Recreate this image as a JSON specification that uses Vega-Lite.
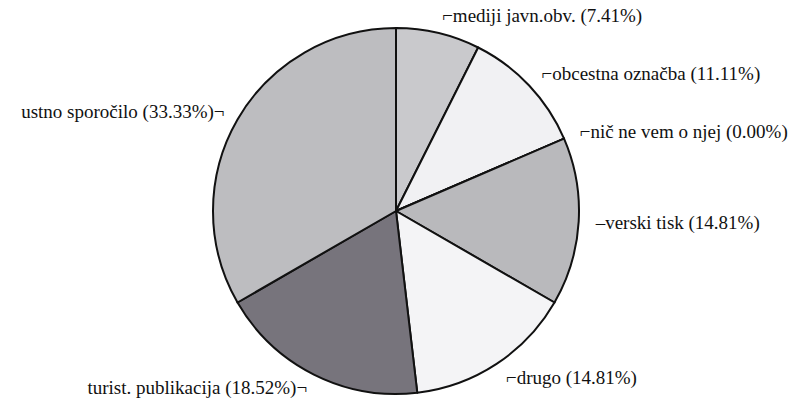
{
  "$schema": "https://vega.github.io/schema/vega-lite/v6.json",
  "width": 799,
  "height": 404,
  "autosize": {"type": "fit", "contains": "padding"},
  "padding": {"left": 0, "right": 7, "top": 16, "bottom": 0},
  "background": "white",
  "view": {"stroke": null},
  "data": {
    "values": [
      {"n": 1, "cat": "mediji javn.obv.", "pct": 7.41, "label": "⌐mediji javn.obv. (7.41%)"},
      {"n": 2, "cat": "obcestna označba", "pct": 11.11, "label": "⌐obcestna označba (11.11%)"},
      {"n": 3, "cat": "nič ne vem o njej", "pct": 0.0, "label": "⌐nič ne vem o njej (0.00%)"},
      {"n": 4, "cat": "verski tisk", "pct": 14.81, "label": "–verski tisk (14.81%)"},
      {"n": 5, "cat": "drugo", "pct": 14.81, "label": "⌐drugo (14.81%)"},
      {"n": 6, "cat": "turist. publikacija", "pct": 18.52, "label": "turist. publikacija (18.52%)¬"},
      {"n": 7, "cat": "ustno sporočilo", "pct": 33.33, "label": "ustno sporočilo (33.33%)¬"}
    ]
  },
  "layer": [
    {
      "mark": {"type": "arc", "outerRadius": 183, "stroke": "#111111", "strokeWidth": 2, "strokeJoin": "round"},
      "encoding": {
        "theta": {"field": "pct", "type": "quantitative", "stack": true},
        "order": {"field": "n", "type": "quantitative"},
        "color": {
          "field": "cat",
          "type": "nominal",
          "legend": null,
          "scale": {
            "domain": ["mediji javn.obv.", "obcestna označba", "nič ne vem o njej", "verski tisk", "drugo", "turist. publikacija", "ustno sporočilo"],
            "range": ["#c9c9cc", "#f1f1f3", "#dddddd", "#b9b9bc", "#f4f4f6", "#77747c", "#bdbdc0"]
          }
        }
      }
    },
    {
      "mark": {"type": "text", "radius": 200, "align": "left", "baseline": "middle", "font": "Liberation Serif", "fontSize": 19, "fill": "#111111"},
      "encoding": {
        "theta": {"field": "pct", "type": "quantitative", "stack": true},
        "order": {"field": "n", "type": "quantitative"},
        "text": {
          "condition": {"test": "datum.n <= 5", "field": "label"},
          "value": ""
        }
      }
    },
    {
      "mark": {"type": "text", "radius": 198, "align": "right", "baseline": "middle", "font": "Liberation Serif", "fontSize": 19, "fill": "#111111"},
      "encoding": {
        "theta": {"field": "pct", "type": "quantitative", "stack": true},
        "order": {"field": "n", "type": "quantitative"},
        "text": {
          "condition": {"test": "datum.n > 5", "field": "label"},
          "value": ""
        }
      }
    }
  ]
}
